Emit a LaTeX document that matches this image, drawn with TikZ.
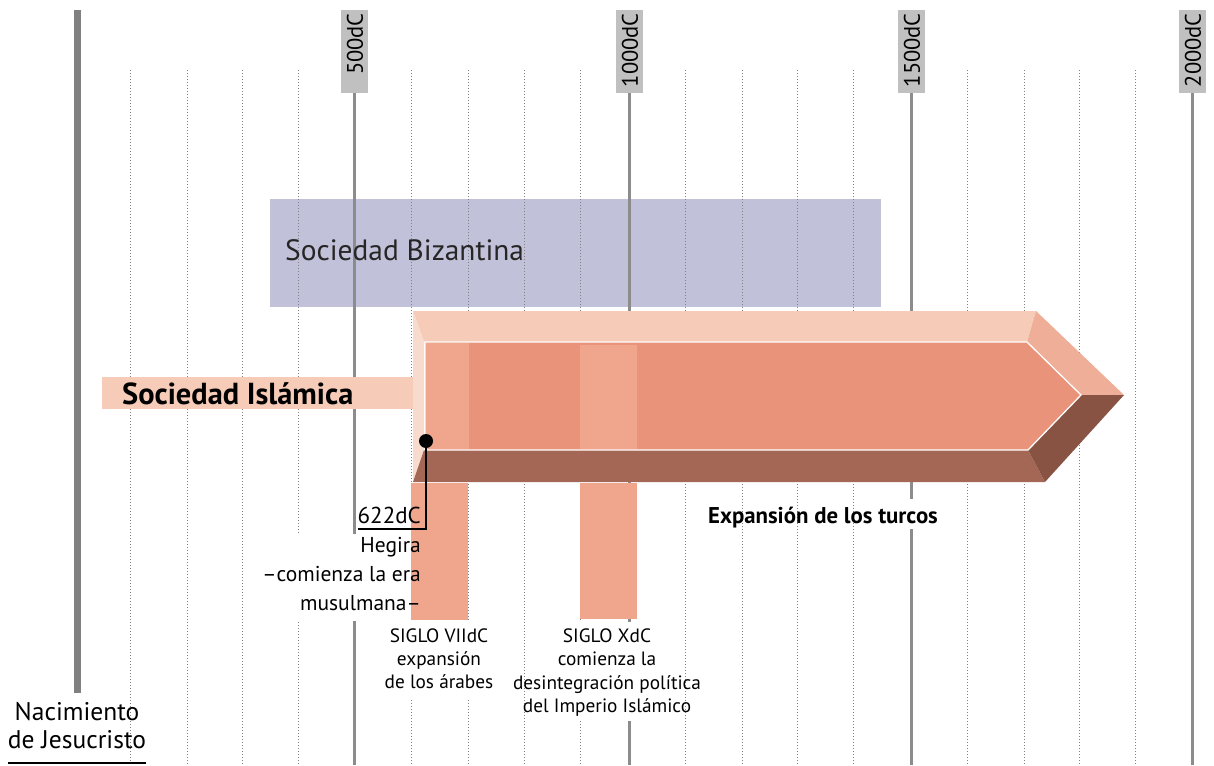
\documentclass[tikz,border=0pt]{standalone}
\usepackage{fontspec}
\setmainfont{PT Sans}
\definecolor{byz}{HTML}{C1C1D9}
\definecolor{islstrip}{HTML}{F6CBB8}
\definecolor{topface}{HTML}{F6CCB9}
\definecolor{leftface}{HTML}{F8DBCD}
\definecolor{frontface}{HTML}{E8937A}
\definecolor{band}{HTML}{EFA68C}
\definecolor{rtopface}{HTML}{EFAE97}
\definecolor{botface}{HTML}{A46755}
\definecolor{rbotface}{HTML}{895344}
\definecolor{yrgray}{HTML}{8C8C8C}
\definecolor{boxgray}{HTML}{C0C0C0}
\definecolor{dotgray}{HTML}{808080}
\begin{document}
\begin{tikzpicture}[x=1pt,y=-1pt,
  dotline/.style={draw=dotgray, line width=0.9pt, dash pattern=on 0.9pt off 2.1pt},
  yearline/.style={draw=yrgray, line width=3pt},
  yearbox/.style={fill=boxgray, draw=none},
  yeartext/.style={rotate=90, anchor=east, inner sep=0pt, font=\fontsize{22.5}{22.5}\selectfont},
  lbl/.style={inner sep=0pt, font=\fontsize{21.5}{21.5}\selectfont},
  small/.style={inner sep=0pt, font=\fontsize{19.3}{19.3}\selectfont},
  title/.style={inner sep=0pt, anchor=west, font=\fontsize{29.4}{29.4}\selectfont}]
\useasboundingbox (0,0) rectangle (1214,765);
% Byzantine band (behind the grid)
\fill[byz] (270,199) rectangle (881,307);
% dotted century lines
\foreach \x in {130,187,242,298,411,468,524,580,685,742,797,853,967,1024,1079,1135}
  \draw[dotline] (\x,70) -- (\x,765);
% solid half-millennium lines
\foreach \x in {354,629,911,1192}
  \draw[yearline] (\x,93) -- (\x,765);
% thick line: birth of Christ
\draw[draw=black!50, line width=7pt] (77,10) -- (77,693);
% year labels
\foreach \x/\t in {354/500dC,629/1000dC,911/1500dC,1192/2000dC}{
  \fill[yearbox] (\x-13.5,10) rectangle (\x+13.5,93);
  \node[yeartext] (y\t) at (\x+1,13) {\t};
}
% white patches behind the lower texts
\fill[white] (262,534) rectangle (418,621);
\fill[white] (398,622) rectangle (482,698);
\fill[white] (545,622) rectangle (670,721);
\fill[white] (900,499) rectangle (922,529);
% texts of the bands
\node[title, text=black!85] (byzt) at (285,250) {Sociedad Bizantina};
\fill[islstrip] (102,377) rectangle (413,409);
\node[title, font=\fontsize{30.4}{30.4}\selectfont\bfseries] (islt) at (122,394) {Sociedad Islámica};
% 3D arrow
\fill[topface] (413,311) -- (1036,311) -- (1027,342) -- (424,342) -- cycle;
\fill[leftface] (413,311) -- (424,342) -- (424,450) -- (413,482) -- cycle;
\fill[rtopface] (1036,311) -- (1124,395) -- (1081,395) -- (1027,342) -- cycle;
\fill[botface] (424,450) -- (1028,450) -- (1045,482) -- (413,482) -- cycle;
\fill[rbotface] (1028,450) -- (1081,395) -- (1124,395) -- (1045,482) -- cycle;
\fill[frontface] (425,342) -- (1027,342) -- (1081,395) -- (1028,450) -- (425,450) -- cycle;
\fill[band] (426,343) rectangle (469,449);
\fill[band] (580,345) rectangle (637,449);
\draw[white, line width=1.3pt, line join=miter] (1027,342) -- (425,342) -- (425,450) -- (1028,450) -- (1081,395) -- cycle;
% century bars below
\fill[band] (411,483) rectangle (468,620);
\fill[band] (580,483) rectangle (637,619);
% Hegira marker
\node[circle, fill=black, inner sep=0pt, minimum size=14pt] (dot) at (426,441) {};
\coordinate (hx) at (358,529);
\draw[line width=2.6pt] (dot.center) |- (hx);
\node[lbl, anchor=base east, font=\fontsize{23}{23}\selectfont] (h0) at (421,523) {622dC};
\node[lbl, anchor=base east] (h1) at (421,552) {Hegira};
\node[lbl, anchor=base east] (h2) at (421,581) {–comienza la era};
\node[lbl, anchor=base east] (h3) at (421,610) {musulmana–};
% SIGLO VII
\node[small, anchor=base] (s71) at (439,642) {SIGLO VIIdC};
\node[small, anchor=base] (s72) at (439,665) {expansión};
\node[small, anchor=base] (s73) at (439,688) {de los árabes};
% SIGLO X
\node[small, anchor=base] (s101) at (607,642) {SIGLO XdC};
\node[small, anchor=base] (s102) at (607,665) {comienza la};
\node[small, anchor=base] (s103) at (607,689) {desintegración política};
\node[small, anchor=base] (s104) at (607,712) {del Imperio Islámico};
% Turks
\node[lbl, anchor=base, font=\fontsize{22.8}{22.8}\selectfont\bfseries] (turk) at (823,523) {Expansión de los turcos};
% birth of Christ
\node[lbl, anchor=base, font=\fontsize{25.5}{25.5}\selectfont] (n1) at (77,720) {Nacimiento};
\node[lbl, anchor=base, font=\fontsize{25.5}{25.5}\selectfont] (n2) at (77,748) {de Jesucristo};
\coordinate (ul) at (8,763);
\coordinate (ur) at (146,763);
\draw[line width=2pt] (ul) -- (ur);
\end{tikzpicture}
\end{document}
